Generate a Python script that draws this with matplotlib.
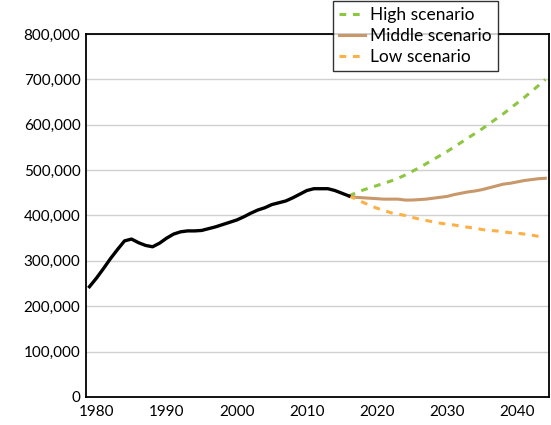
import matplotlib.pyplot as plt
import numpy as np

plt.rcParams['font.family'] = ['Lato', 'DejaVu Sans']

hist_years = np.arange(1979, 2017)
hist_values = [243, 262, 283, 305, 325, 344, 348, 340, 334, 331,
               339, 350, 359, 364, 366, 366, 367, 371, 375, 380,
               385, 390, 397, 405, 412, 417, 424, 428, 432, 439,
               447, 455, 459, 459, 459, 455, 449, 443]

proj_years = np.arange(2016, 2045)
high = [443, 450, 456, 461, 466, 471, 476, 482, 489, 497,
        505, 514, 523, 532, 541, 551, 561, 571, 581, 591,
        602, 613, 624, 636, 648, 660, 673, 686, 700]
middle = [443, 440, 439, 438, 437, 436, 436, 436, 434, 434,
          435, 436, 438, 440, 442, 446, 449, 452, 454, 457,
          461, 465, 469, 471, 474, 477, 479, 481, 482]
low = [443, 436, 429, 422, 416, 411, 406, 403, 400, 396,
       392, 389, 386, 383, 381, 379, 376, 374, 372, 369,
       367, 366, 364, 362, 361, 359, 357, 354, 352]

fig = plt.figure(figsize=(5.51, 4.25), dpi=100)
ax = fig.add_axes([0.156, 0.066, 0.84, 0.854])

ax.plot(proj_years, np.array(high) * 1000, color='#8DC641', lw=2.2,
        ls=(0, (2.2, 2.2)), label='High scenario')
ax.plot(proj_years, np.array(middle) * 1000, color='#C8986A', lw=2.2,
        label='Middle scenario')
ax.plot(proj_years, np.array(low) * 1000, color='#FDB045', lw=2.2,
        ls=(0, (2.2, 2.2)), label='Low scenario')
ax.plot(hist_years, np.array(hist_values) * 1000, color='black', lw=2.4)

ax.set_xlim(1978.5, 2044.5)
ax.set_ylim(0, 800000)
ax.set_xticks(np.arange(1980, 2041, 10))
ax.set_yticks(np.arange(0, 800001, 100000))
ax.yaxis.set_major_formatter(plt.FuncFormatter(lambda v, p: f'{int(v):,}'))
ax.tick_params(length=0, labelsize=11, pad=4)
ax.tick_params(axis='x', pad=6)
ax.grid(axis='y', color='#D0D0D0', lw=1)
ax.set_axisbelow(True)
for s in ax.spines.values():
    s.set_linewidth(1.3)

leg = fig.legend(loc='upper left', bbox_to_anchor=(0.604, 0.998), fontsize=12.5,
                 frameon=True, fancybox=False, edgecolor='black',
                 handlelength=1.5, handletextpad=0.3, borderpad=0.35,
                 labelspacing=0.3, borderaxespad=0)
leg.get_frame().set_linewidth(1.0)

fig.savefig('out.png', dpi=100)
